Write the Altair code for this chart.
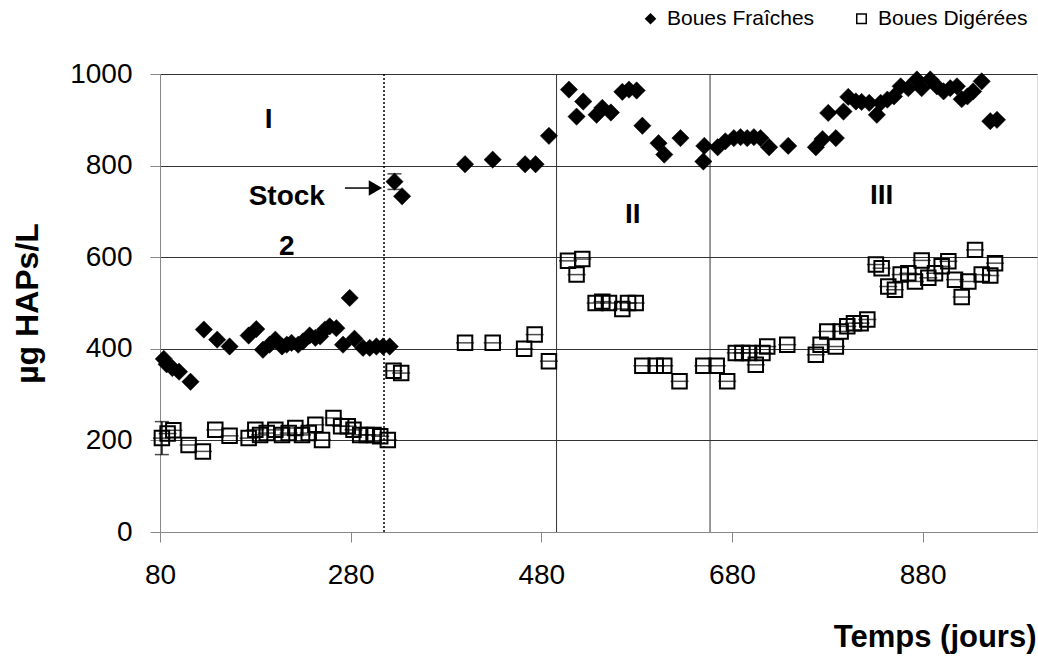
import altair as alt
import pandas as pd

# ---- data ----
fr_days = [84, 87, 93, 100, 112, 126, 140, 153, 173, 181,
           188, 195, 201, 208, 213, 218, 225, 230, 237, 243, 248, 253, 258, 265, 272,
           279, 284, 293, 300, 307, 314, 321,
           326, 334,
           400, 429, 463, 474, 488,
           509, 517, 524, 538, 544, 553, 565, 572, 580, 586, 603, 609, 626, 650, 651,
           665, 673, 682, 689, 696, 703, 710, 719, 739, 768, 775, 781, 789, 797, 802,
           810, 816, 824, 832, 836, 843, 850, 857, 865, 874, 879, 888, 895, 902, 909,
           916, 921, 927, 933, 942, 951, 958]
fr_vals = [378, 366, 358, 350, 328, 442, 420, 405, 429, 443,
           398, 409, 420, 405, 409, 413, 409, 416, 429, 424, 427, 442, 449, 445, 409,
           511, 422, 402, 402, 405, 405, 405,
           765, 733,
           803, 813, 803, 803, 865,
           966, 907, 940, 911, 926, 916, 961, 966, 964, 887, 849, 824, 860, 809, 843,
           840, 853, 860, 862, 860, 862, 860, 840, 843, 840, 858, 915, 860, 918, 950,
           940, 939, 937, 911, 937, 944, 951, 973, 969, 988, 969, 988, 973, 962, 969,
           973, 945, 951, 962, 984, 897, 900]

dg_days = [82, 88, 94, 110, 125, 138, 153,
           173, 180, 185, 192, 201, 208, 215, 222, 229, 236, 243, 250, 262, 270, 277,
           283, 290, 297, 304, 311, 319,
           325, 333,
           400, 429, 462, 473, 488,
           508, 517, 523, 537, 544, 551, 565, 571, 579, 586, 600, 609, 625, 650,
           664, 675, 684, 691, 698, 705, 712, 717, 738, 768, 773, 780, 789, 794, 801,
           808, 815, 822, 831, 837, 844, 851, 857, 865, 872, 879, 886, 893, 900, 907,
           914, 921, 928, 935, 942, 951, 956]
dg_vals = [205, 215, 222, 190, 176, 223, 210,
           205, 223, 212, 216, 223, 212, 216, 227, 212, 216, 234, 201, 249, 231, 231,
           223, 212, 212, 212, 209, 201,
           352, 347,
           413, 413, 400, 431, 373,
           592, 562, 596, 500, 503, 500, 487, 500, 500, 363, 363, 363, 329, 363,
           363, 329, 391, 391, 391, 365, 391, 405, 409, 387, 409, 438, 405, 438, 449,
           456, 456, 464, 584, 576, 536, 529, 562, 565, 547, 593, 555, 565, 580, 591,
           551, 513, 547, 616, 562, 560, 587]

series_names = ["Boues Fraîches", "Boues Digérées"]

err_days = [82, 326]
err_vals = [205, 765]
err_sd = [36, 17]

solid_dividers = [496, 657]
dotted_divider = [315]

ann_labels = ["I", "Stock", "2", "II", "III"]
ann_days = [194, 213, 213, 576, 837]
ann_vals = [900, 731, 622, 693, 733]

arrow_start = [274]
arrow_end = [305]
arrow_tip = [306]
arrow_val = [751]

x_ticks = [80, 280, 480, 680, 880]
y_ticks = [0, 200, 400, 600, 800, 1000]

FONT = "Liberation Sans"

fr = pd.DataFrame({"day": fr_days, "val": fr_vals, "series": series_names[0]})
dg = pd.DataFrame({"day": dg_days, "val": dg_vals, "series": series_names[1]})
err = pd.DataFrame({"day": err_days, "val": err_vals, "sd": err_sd})
err["lo"] = err["val"] - err["sd"]
err["hi"] = err["val"] + err["sd"]
ann = pd.DataFrame({"label": ann_labels, "day": ann_days, "val": ann_vals})
arrow = pd.DataFrame({"x0": arrow_start, "x1": arrow_end, "tip": arrow_tip, "val": arrow_val})

xscale = alt.Scale(domain=[80, 1000], nice=False, zero=False)
yscale = alt.Scale(domain=[0, 1000], nice=False)

xenc = alt.X("day:Q", scale=xscale,
             axis=alt.Axis(values=x_ticks, title="Temps (jours)", grid=False, format="d",
                           labelFlush=False, labelOverlap=False,
                           tickSize=10, labelPadding=19, labelFontSize=28,
                           titleFontSize=31, titleFontWeight="bold",
                           titleX=876, titleY=114, titleAlign="right",
                           titleBaseline="alphabetic"))
yenc = alt.Y("val:Q", scale=yscale,
             axis=alt.Axis(values=y_ticks, title="µg HAPs/L", grid=True, format="d",
                           labelFlush=False, labelOverlap=False,
                           gridColor="#333333", gridWidth=1,
                           tickSize=10, labelPadding=18, labelFontSize=28,
                           titleFontSize=32, titleFontWeight="bold",
                           titleX=-133, titleY=229, titleAlign="center",
                           titleBaseline="middle"))

shape_enc = alt.Shape("series:N",
                      scale=alt.Scale(domain=series_names, range=["diamond", "square"]),
                      legend=alt.Legend(title=None, orient="none", direction="horizontal",
                                        legendX=480, legendY=-66, labelFontSize=21,
                                        labelFont=FONT, symbolSize=90,
                                        symbolStrokeColor="black", symbolStrokeWidth=1.5,
                                        columnPadding=36, labelOffset=6))
fill_enc = alt.Fill("series:N",
                    scale=alt.Scale(domain=series_names, range=["black", "white"]),
                    legend=None)

dividers = alt.Chart(pd.DataFrame({"day": solid_dividers})).mark_rule(
    color="#333333", strokeWidth=1).encode(x=alt.X("day:Q", scale=xscale))
dotted = alt.Chart(pd.DataFrame({"day": dotted_divider})).mark_rule(
    color="black", strokeWidth=1.5, strokeDash=[2, 2]).encode(x=alt.X("day:Q", scale=xscale))

dg_pts = alt.Chart(dg).mark_point(filled=False, size=210, stroke="black",
                                  strokeWidth=2, opacity=1).encode(
    x=xenc, y=yenc, shape=shape_enc)
dg_caps = alt.Chart(dg).mark_tick(orient="horizontal", size=18, thickness=1.5,
                                  color="black").encode(
    x=alt.X("day:Q", scale=xscale), y=alt.Y("val:Q", scale=yscale))
fr_pts = alt.Chart(fr).mark_point(filled=True, size=300, stroke="black",
                                  strokeWidth=0.5, opacity=1).encode(
    x=xenc, y=yenc, shape=shape_enc, fill=fill_enc)

err_rule = alt.Chart(err).mark_rule(color="black", strokeWidth=1.5).encode(
    x=alt.X("day:Q", scale=xscale), y=alt.Y("lo:Q", scale=yscale), y2="hi:Q")
err_top = alt.Chart(err).mark_tick(orient="horizontal", size=14, thickness=1.5,
                                   color="black").encode(
    x=alt.X("day:Q", scale=xscale), y=alt.Y("hi:Q", scale=yscale))
err_bot = alt.Chart(err).mark_tick(orient="horizontal", size=14, thickness=1.5,
                                   color="black").encode(
    x=alt.X("day:Q", scale=xscale), y=alt.Y("lo:Q", scale=yscale))

texts = alt.Chart(ann).mark_text(font=FONT, fontSize=28, fontWeight="bold",
                                 align="center", baseline="middle", color="black").encode(
    x=alt.X("day:Q", scale=xscale), y=alt.Y("val:Q", scale=yscale), text="label:N")

arrow_line = alt.Chart(arrow).mark_rule(color="black", strokeWidth=1.5).encode(
    x=alt.X("x0:Q", scale=xscale), x2="x1:Q", y=alt.Y("val:Q", scale=yscale))
arrow_head = alt.Chart(arrow).mark_point(shape="triangle-right", filled=True, size=240,
                                         color="black", opacity=1).encode(
    x=alt.X("tip:Q", scale=xscale), y=alt.Y("val:Q", scale=yscale))

chart = alt.layer(
    dividers, dotted, dg_caps, dg_pts, fr_pts, err_rule, err_top, err_bot,
    texts, arrow_line, arrow_head
).resolve_scale(shape="shared", fill="shared").properties(
    width=877, height=458,
    padding={"left": 160, "top": 74, "right": 1, "bottom": 128},
    autosize=alt.AutoSizeParams(type="none"),
).configure_view(stroke="#333333", strokeWidth=1).configure_axis(
    labelFont=FONT, titleFont=FONT, labelColor="black", titleColor="black",
    domainColor="black", tickColor="black", domainWidth=1.5, tickWidth=1
).configure(background="white")

chart.save("out.html", embed_options={"renderer": "svg", "actions": False})
